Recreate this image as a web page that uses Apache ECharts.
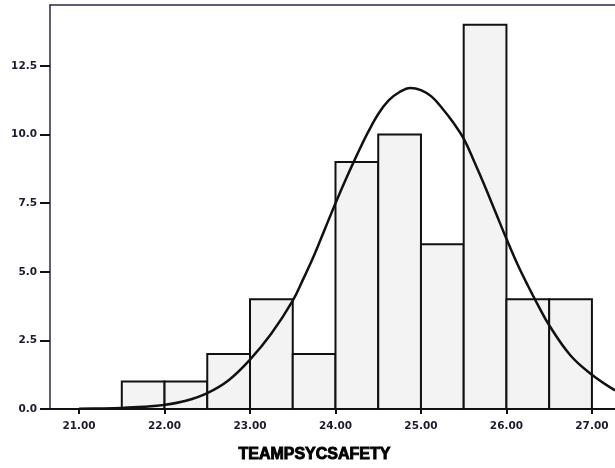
<!DOCTYPE html>
<html>
<head>
<meta charset="utf-8">
<script src="https://cdn.jsdelivr.net/npm/echarts@6/dist/echarts.min.js"></script>
<style>html,body{margin:0;padding:0;background:#fff;}#c{width:615px;height:468px;}</style>
</head>
<body>
<div id="c"></div>
<script>
// Histogram bins (lower edge) and counts
var binStarts = [21.5, 22.0, 22.5, 23.0, 23.5, 24.0, 24.5, 25.0, 25.5, 26.0, 26.5];
var binWidth = 0.5;
var counts = [1, 1, 2, 4, 2, 9, 10, 6, 14, 4, 4];
// Normal curve
var curveX = [21.0, 21.25, 21.5, 21.75, 22.0, 22.25, 22.5, 22.75, 23.0, 23.25, 23.5, 23.625, 23.75, 23.875, 24.0, 24.125, 24.25, 24.375, 24.5, 24.625, 24.75, 24.875, 25.0, 25.125, 25.25, 25.375, 25.5, 25.625, 25.75, 25.875, 26.0, 26.125, 26.25, 26.375, 26.5, 26.75, 27.0, 27.27];
var curveY = [0.01, 0.02, 0.04, 0.08, 0.15, 0.3, 0.58, 1.05, 1.8, 2.75, 3.95, 4.75, 5.6, 6.55, 7.5, 8.4, 9.25, 10.05, 10.75, 11.25, 11.55, 11.7, 11.62, 11.38, 10.95, 10.45, 9.85, 9.0, 8.1, 7.15, 6.2, 5.3, 4.5, 3.75, 3.05, 1.95, 1.25, 0.68];
var xTicks = [21, 22, 23, 24, 25, 26, 27];
var yTicks = [0, 2.5, 5, 7.5, 10, 12.5];

var chart = echarts.init(document.getElementById('c'), null, {renderer: 'canvas'});
var barData = binStarts.map(function (s, i) { return [s, s + binWidth, counts[i]]; });
var lineData = curveX.map(function (x, i) { return [x, curveY[i]]; });
var labelStyle = {color: '#1b1b2e', fontSize: 10.5, fontWeight: 'bold', fontFamily: '"DejaVu Sans", sans-serif'};

chart.setOption({
  animation: false,
  backgroundColor: '#ffffff',
  grid: {left: 50, right: 0, top: 5, bottom: 59},
  xAxis: [{
    type: 'value', min: 20.66, max: 27.27, position: 'bottom',
    axisLine: {show: true, lineStyle: {color: '#111', width: 2}},
    axisTick: {show: true, length: 5, customValues: xTicks, lineStyle: {color: '#111', width: 2}},
    axisLabel: Object.assign({margin: 12, customValues: xTicks, formatter: function (v) { return v.toFixed(2); }}, labelStyle),
    splitLine: {show: false}
  }, {
    type: 'value', min: 20.66, max: 27.27, position: 'top',
    axisLine: {show: true, lineStyle: {color: '#2a2a44', width: 1.5}},
    axisTick: {show: false}, axisLabel: {show: false}, splitLine: {show: false}
  }],
  yAxis: {
    type: 'value', min: 0, max: 14.72,
    axisLine: {show: true, lineStyle: {color: '#2a2a44', width: 1.5}},
    axisTick: {show: true, length: 10, customValues: yTicks, lineStyle: {color: '#111', width: 2}},
    axisLabel: Object.assign({margin: 13, customValues: yTicks, formatter: function (v) { return v.toFixed(1); }}, labelStyle),
    splitLine: {show: false}
  },
  graphic: [{
    type: 'text', left: 238, top: 446,
    style: {text: 'TEAMPSYCSAFETY', fill: '#000', stroke: '#000', lineWidth: 0.9, font: 'bold 16px "Liberation Sans", Arial, sans-serif'}
  }],
  series: [{
    type: 'custom',
    xAxisIndex: 0,
    data: barData,
    z: 2,
    renderItem: function (params, api) {
      var p0 = api.coord([api.value(0), 0]);
      var p1 = api.coord([api.value(1), api.value(2)]);
      return {
        type: 'rect',
        shape: {x: p0[0], y: p1[1], width: p1[0] - p0[0], height: p0[1] - p1[1]},
        style: {fill: '#f3f3f3', stroke: '#111', lineWidth: 2}
      };
    }
  }, {
    type: 'line',
    xAxisIndex: 0,
    data: lineData,
    smooth: 0.4,
    showSymbol: false,
    clip: true,
    z: 3,
    lineStyle: {color: '#111', width: 2.5}
  }]
});
</script>
</body>
</html>
